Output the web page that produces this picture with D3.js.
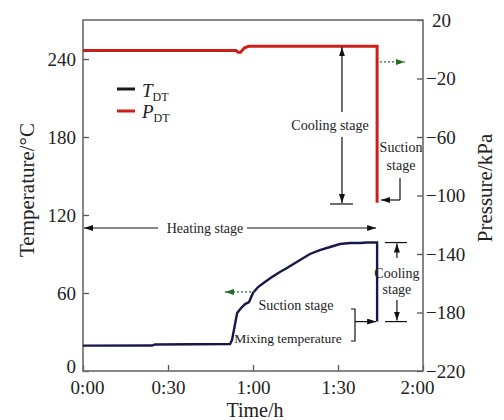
<!DOCTYPE html>
<html>
<head>
<meta charset="utf-8">
<script src="https://cdn.jsdelivr.net/npm/d3@7"></script>
<style>
  body { margin: 0; background: #fff; }
  text { font-family: "Liberation Serif", "DejaVu Serif", serif; fill: #222; }
</style>
</head>
<body>
<svg id="chart"></svg>
<script>
// time in minutes, temperature in degC, pressure in kPa
const tempTime  = [0, 24.4, 25.4, 51.9, 52.6, 53.6, 54.4, 55.8, 57.2, 58.6, 60, 61.8, 64.2, 66.7, 69.5, 72, 76.6, 80.1, 83.6, 87.2, 90.7, 94.2, 97.8, 100.2, 103.8, 103.8];
const tempValue = [19.5, 19.6, 20.4, 20.8, 23.8, 35.4, 44.6, 48.5, 51.5, 53, 60, 64.6, 68.5, 72.3, 76.2, 79.2, 85.4, 90, 93, 95.4, 97.7, 98.5, 98.5, 98.8, 98.8, 38];

const presTime  = [0, 54, 54.7, 55.6, 57, 58.5, 103.8, 103.8];
const presValue = [-0.8, -0.8, -2, -2, 1, 2, 2, -105];

const timeTicks = [0, 30, 60, 90, 120];
const tempTicks = [0, 60, 120, 180, 240];
const presTicks = [20, -20, -60, -100, -140, -180, -220];

const WIDTH = 504, HEIGHT = 420;
const margin = { top: 20, bottom: 49, left: 83, right: 81 };
const width = WIDTH - margin.left - margin.right,
      height = HEIGHT - margin.top - margin.bottom;

const svg = d3.select("svg#chart")
                .attr("width", WIDTH)
                .attr("height", HEIGHT);

const x = d3.scaleLinear().domain([0, 120]).range([margin.left, margin.left + width]);
const yT = d3.scaleLinear().domain([0, 270]).range([margin.top + height, margin.top]);
const yP = d3.scaleLinear().domain([-220, 20]).range([margin.top + height, margin.top]);

const defs = svg.append("defs");
const marker = (id, color) => defs.append("marker")
        .attr("id", id)
        .attr("markerUnits", "userSpaceOnUse")
        .attr("markerWidth", 9).attr("markerHeight", 6)
        .attr("refX", 9).attr("refY", 3)
        .attr("orient", "auto-start-reverse")
      .append("path")
        .attr("d", "M0,0 L9,3 L0,6 Z")
        .attr("fill", color);
marker("arr", "#111");
marker("garr", "#1f6e22");

const tickFont = 19;

// axes (ticks point inward)
const fmtTime = (m) => `${Math.floor(m / 60)}:${String(m % 60).padStart(2, "0")}`;

const xAxis = svg.append("g")
        .attr("transform", `translate(0, ${margin.top + height})`)
        .call(d3.axisBottom(x).tickValues(timeTicks).tickFormat(fmtTime)
                .tickSizeInner(-6).tickSizeOuter(0).tickPadding(10));

const yAxisL = svg.append("g")
        .attr("transform", `translate(${margin.left}, 0)`)
        .call(d3.axisLeft(yT).tickValues(tempTicks)
                .tickSizeInner(-6).tickSizeOuter(0).tickPadding(7));

const yAxisR = svg.append("g")
        .attr("transform", `translate(${margin.left + width}, 0)`)
        .call(d3.axisRight(yP).tickValues(presTicks)
                .tickFormat((d) => d < 0 ? "\u2212" + Math.abs(d) : d)
                .tickSizeInner(-6).tickSizeOuter(0).tickPadding(3));

[xAxis, yAxisL, yAxisR].forEach((a) => {
    a.select(".domain").remove();
    a.selectAll("line").attr("stroke", "#555").attr("stroke-width", 1.3);
    a.selectAll("text")
        .style("font-family", "'Liberation Serif', serif")
        .style("font-size", tickFont + "px")
        .attr("fill", "#222");
});
yAxisR.selectAll("text").filter((d) => d >= 0).attr("dx", 6);
yAxisL.selectAll("text").filter((d) => d === 0).attr("y", -5);
xAxis.selectAll("text").filter((d) => d === 0).attr("dx", 4);
xAxis.selectAll("text").filter((d) => d === 120).attr("dx", -6);

// frame
svg.append("rect")
    .attr("x", margin.left).attr("y", margin.top)
    .attr("width", width).attr("height", height)
    .attr("fill", "none")
    .attr("stroke", "#6a6a6a")
    .attr("stroke-width", 1.6);

// axis titles
svg.append("text")
    .attr("transform", `translate(255, 417)`)
    .attr("text-anchor", "middle")
    .style("font-size", "20px")
    .text("Time/h");

svg.append("text")
    .attr("transform", `translate(34, 190) rotate(-90)`)
    .attr("text-anchor", "middle")
    .style("font-size", "21px")
    .text("Temperature/\u00b0C");

svg.append("text")
    .attr("transform", `translate(492, 188) rotate(-90)`)
    .attr("text-anchor", "middle")
    .style("font-size", "21px")
    .text("Pressure/kPa");

// series
const tempData = tempTime.map((t, i) => ({ t, v: tempValue[i] }));
const presData = presTime.map((t, i) => ({ t, v: presValue[i] }));

svg.append("path")
    .datum(presData)
    .attr("fill", "none")
    .attr("stroke", "#cc1f1a")
    .attr("stroke-width", 3)
    .attr("d", d3.line().x((d) => x(d.t)).y((d) => yP(d.v)));

svg.append("path")
    .datum(tempData)
    .attr("fill", "none")
    .attr("stroke", "#16184c")
    .attr("stroke-width", 2.4)
    .attr("d", d3.line().x((d) => x(d.t)).y((d) => yT(d.v)));

// legend
const legend = svg.append("g");
[["T", "#1a1a1a", 89, 97], ["P", "#cc1f1a", 111, 118]].forEach(([s, c, ly, by]) => {
    legend.append("line")
        .attr("x1", 117).attr("x2", 135).attr("y1", ly).attr("y2", ly)
        .attr("stroke", c).attr("stroke-width", 3);
    const t = legend.append("text")
        .attr("x", 142).attr("y", by)
        .style("font-size", "19px");
    t.append("tspan").style("font-style", "italic").text(s);
    t.append("tspan").attr("dy", 4).style("font-size", "12px").text("DT");
});

// annotations
const ann = svg.append("g")
        .attr("stroke", "#111")
        .attr("stroke-width", 1.2)
        .attr("fill", "none");

const seg = (x1, y1, x2, y2, start, end, color) => {
    const l = ann.append("line")
        .attr("x1", x1).attr("y1", y1).attr("x2", x2).attr("y2", y2);
    if (color) l.attr("stroke", color).attr("stroke-dasharray", "2,2");
    const m = color ? "url(#garr)" : "url(#arr)";
    if (start) l.attr("marker-start", m);
    if (end) l.attr("marker-end", m);
    return l;
};

const label = (tx, ty, str, fs) => svg.append("text")
        .attr("x", tx).attr("y", ty)
        .attr("dy", "0.35em")
        .attr("text-anchor", "middle")
        .style("font-size", (fs || 14) + "px")
        .text(str);

// cooling stage (pressure)
const xc = x(91.4);
seg(xc, 112, xc, yP(2) + 1, false, true);
seg(xc, 137, xc, yP(-105.8) - 1, false, true);
seg(xc - 12, yP(-105.8), xc + 11, yP(-105.8));
label(330, 125, "Cooling stage");

// suction stage (pressure)
label(401, 147, "Suction");
label(401, 165, "stage");
seg(400, 178, 400, 200);
seg(400, 200, x(103.8) + 4, 200, false, true);

// green dotted arrows
seg(x(104.8), yP(-8.7), x(113.6), yP(-8.7), false, true, "#1f6e22");
seg(x(60.7), yT(60.8), x(50.1), yT(60.8), false, true, "#1f6e22");

// heating stage
const yh = yT(110);
seg(158, yh, x(0) + 1, yh, false, true);
seg(247, yh, x(103.8) - 1, yh, false, true);
label(205, yh, "Heating stage");

// cooling stage (temperature)
const xr = x(110.8);
seg(xr - 12, yT(98.8), xr + 10, yT(98.8));
seg(xr, 258, xr, yT(98.8) + 1, false, true);
label(xr, 273, "Cooling");
label(xr, 289, "stage");
seg(xr, 300, xr, yT(38) - 1, false, true);
seg(xr - 12, yT(38), xr + 10, yT(38));

// suction stage / mixing temperature
label(296, 305, "Suction stage");
label(288, 338, "Mixing temperature", 13.5);
ann.append("path").attr("d", `M351,309 H355 V341 H351`);
seg(355, yT(38), x(103.8) - 1, yT(38), false, true);
</script>
</body>
</html>
